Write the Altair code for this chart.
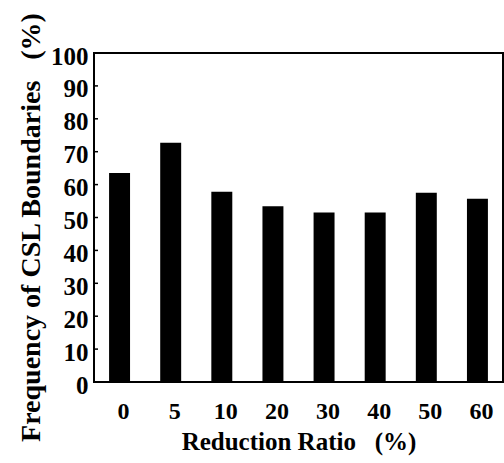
import altair as alt
import pandas as pd

ratios = ["0", "5", "10", "20", "30", "40", "50", "60"]
freqs = [63.5, 72.7, 57.8, 53.4, 51.5, 51.5, 57.5, 55.7]
y_tick_values = [0, 10, 20, 30, 40, 50, 60, 70, 80, 90, 100]
inner_ticks = [10, 20, 30, 40, 50, 60, 70, 80, 90]

df = pd.DataFrame({"ratio": ratios, "freq": freqs})
ticks_df = pd.DataFrame({"v": inner_ticks})

FONT = "Liberation Serif"

y_axis = alt.Axis(
    title="Frequency of CSL Boundaries\u00a0\u00a0\u00a0(%)",
    values=y_tick_values,
    ticks=False,
    domain=False,
    grid=False,
    labelFont=FONT,
    labelFontWeight="bold",
    labelFontSize=25,
    labelColor="black",
    labelPadding=6,
    labelOffset=3,
    labelOverlap=False,
    labelFlush=False,
    titleFont=FONT,
    titleFontWeight="bold",
    titleFontSize=28,
    titleColor="black",
    titleBaseline="alphabetic",
    titleX=-55,
    titleY=174,
)

bars = alt.Chart(df).mark_bar(color="black").encode(
    x=alt.X(
        "ratio:N",
        sort=ratios,
        scale=alt.Scale(paddingInner=0.59, paddingOuter=0.295),
        axis=alt.Axis(
            title="Reduction Ratio\u00a0\u00a0\u00a0(%)",
            labelAngle=0,
            ticks=False,
            domain=False,
            labelFont=FONT,
            labelFontWeight="bold",
            labelFontSize=24,
            labelColor="black",
            labelBaseline="alphabetic",
            labelPadding=36,
            labelOffset=4,
            labelOverlap=False,
            titleFont=FONT,
            titleFontWeight="bold",
            titleFontSize=25,
            titleColor="black",
            titleBaseline="alphabetic",
            titleY=67,
        ),
    ),
    y=alt.Y(
        "freq:Q",
        scale=alt.Scale(domain=[0, 100], nice=False),
        axis=y_axis,
    ),
)

tick_marks = alt.Chart(ticks_df).mark_rule(color="black", strokeWidth=1.5).encode(
    y=alt.Y("v:Q", axis=y_axis),
    x=alt.value(0),
    x2=alt.value(4),
)

chart = (
    alt.layer(bars, tick_marks)
    .properties(
        width=409,
        height=329,
        autosize=alt.AutoSizeParams(type="none"),
        padding={"left": 94, "top": 53, "right": 1, "bottom": 81},
        background="white",
        view=alt.ViewBackground(stroke="black", strokeWidth=2),
    )
    .configure_view(stroke="black", strokeWidth=2)
)

chart.save("out.html", embed_options={"renderer": "svg", "actions": False})
